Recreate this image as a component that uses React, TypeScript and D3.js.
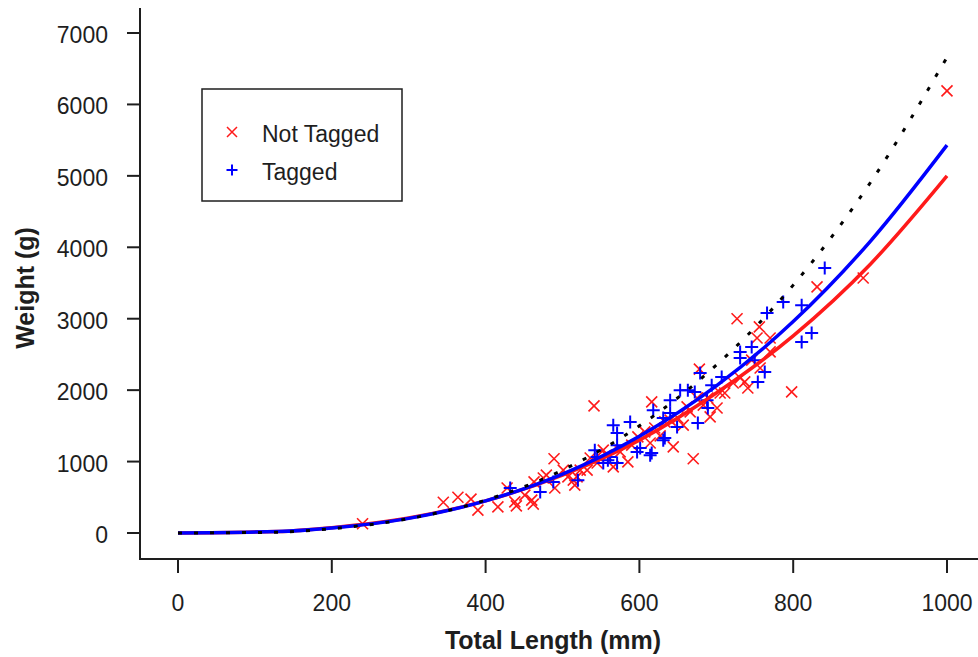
import React from "react";
import * as d3 from "d3";

// ---- data ----
const xTicks = [0, 200, 400, 600, 800, 1000];
const yTicks = [0, 1000, 2000, 3000, 4000, 5000, 6000, 7000];

const fitLength = [0, 130, 200, 300, 400, 500, 600, 700, 800, 900, 1000];
const notTaggedFit = [0, 20, 75, 210, 450, 810, 1300, 1960, 2760, 3760, 5000];
const taggedFit = [0, 20, 70, 205, 450, 825, 1355, 2060, 2960, 4080, 5430];
const pooledFit = [0, 12, 60, 200, 460, 880, 1500, 2350, 3470, 4900, 6660];

const notTaggedLength = [
  240, 345, 364, 381, 390, 416, 428, 438, 440, 451, 460, 462, 463, 475, 479, 490, 489, 501, 507, 514,
  516, 523, 519, 532, 545, 553, 541, 566, 585, 614, 616, 640, 644, 662, 675, 670, 678, 692, 701, 727,
  756, 753, 770, 737, 741, 722, 705, 798, 831, 891, 1000, 575, 590, 598, 607, 620, 627, 633, 650, 657,
  666, 683, 689, 711, 731, 757, 770, 746, 536, 557,
];
const notTaggedWeight = [
  130, 430, 500, 475, 320, 365, 630, 435, 380, 530, 460, 405, 715, 770, 810, 630, 1040, 880, 785, 740,
  670, 880, 785, 880, 980, 1160, 1780, 925, 995, 1260, 1835, 1580, 1205, 1765, 1890, 1040, 2295, 1625, 1750, 3000,
  2885, 2730, 2730, 2115, 2030, 2100, 1960, 1975, 3445, 3570, 6190, 1135, 1230, 1345, 1415, 1470, 1360, 1555, 1610, 1510,
  1695, 1790, 1890, 1960, 2170, 2310, 2535, 2420, 1050, 1090,
];

const taggedLength = [
  432, 471, 488, 520, 545, 553, 542, 562, 571, 566, 588, 571, 571, 601, 614, 631, 649, 640, 653, 672,
  640, 631, 679, 676, 689, 618, 633, 694, 707, 663, 688, 731, 731, 746, 750, 763, 754, 766, 787, 811,
  824, 811, 841, 597, 616, 559,
];
const taggedWeight = [
  630, 575, 715, 740, 1065, 980, 1160, 1065, 980, 1510, 1555, 1400, 1230, 1190, 1090, 1300, 1485, 1860, 2000, 1975,
  1680, 1610, 2240, 1540, 1750, 1720, 1330, 2070, 2185, 2000, 1860, 2535, 2450, 2605, 2420, 2255, 2115, 3080, 3235, 3190,
  2800, 2675, 3710, 1135, 1120, 1020,
];

const legendLabels = ["Not Tagged", "Tagged"];

const W = 978;
const H = 657;
const FONT = "'Liberation Sans', Arial, sans-serif";
const INK = "#1e1e1e";
const RED = "#ff1a1a";
const BLUE = "#0000ff";

export default function App() {
  const x = d3.scaleLinear().domain([0, 1000]).range([178, 947]);
  const y = d3.scaleLinear().domain([0, 7000]).range([533, 33]);

  const line = d3
    .line<number>()
    .x((_, i) => x(fitLength[i]))
    .curve(d3.curveMonotoneX);

  const redPath = line.y((d) => y(d))(notTaggedFit) || "";
  const bluePath = line.y((d) => y(d))(taggedFit) || "";
  const blackPath = line.y((d) => y(d))(pooledFit) || "";

  const cross = (s: number) => `M${-s},${-s}L${s},${s}M${-s},${s}L${s},${-s}`;
  const plus = (s: number) => `M${-s},0H${s}M0,${-s}V${s}`;

  return (
    <svg
      width={W}
      height={H}
      style={{ position: "absolute", left: 0, top: 0, background: "#fff" }}
      fontFamily={FONT}
    >
      <rect x={0} y={0} width={W} height={H} fill="#fff" />

      {/* axes */}
      <line x1={140} y1={8} x2={140} y2={560} stroke={INK} strokeWidth={2} />
      <line x1={139} y1={559} x2={978} y2={559} stroke={INK} strokeWidth={2} />

      {yTicks.map((t) => (
        <g key={"y" + t}>
          <line x1={127} x2={140} y1={y(t)} y2={y(t)} stroke={INK} strokeWidth={2} />
          <text x={108} y={y(t) + 10} textAnchor="end" fontSize={23} fill={INK}>
            {t}
          </text>
        </g>
      ))}
      {xTicks.map((t) => (
        <g key={"x" + t}>
          <line x1={x(t)} x2={x(t)} y1={559} y2={573} stroke={INK} strokeWidth={2} />
          <text x={x(t)} y={611} textAnchor="middle" fontSize={23} fill={INK}>
            {t}
          </text>
        </g>
      ))}

      <text x={553} y={649} textAnchor="middle" fontSize={25} fontWeight="bold" fill={INK}>
        Total Length (mm)
      </text>
      <text
        transform="translate(34,288) rotate(-90)"
        textAnchor="middle"
        fontSize={25}
        fontWeight="bold"
        fill={INK}
      >
        Weight (g)
      </text>

      {/* scatter */}
      {notTaggedLength.map((l, i) => (
        <path
          key={"r" + i}
          d={cross(5.5)}
          transform={`translate(${x(l)},${y(notTaggedWeight[i])})`}
          stroke={RED}
          strokeWidth={1.6}
          fill="none"
        />
      ))}
      {taggedLength.map((l, i) => (
        <path
          key={"b" + i}
          d={plus(6.5)}
          transform={`translate(${x(l)},${y(taggedWeight[i])})`}
          stroke={BLUE}
          strokeWidth={2}
          fill="none"
        />
      ))}

      {/* fitted curves */}
      <path d={redPath} fill="none" stroke={RED} strokeWidth={3.5} />
      <path d={bluePath} fill="none" stroke={BLUE} strokeWidth={3.5} />
      <path d={blackPath} fill="none" stroke="#000" strokeWidth={3} strokeDasharray="4 12" />

      {/* legend */}
      <rect x={202} y={89} width={200} height={112} fill="#fff" stroke={INK} strokeWidth={1.5} />
      <path d={cross(5)} transform="translate(232,132)" stroke={RED} strokeWidth={1.5} fill="none" />
      <path d={plus(5.5)} transform="translate(232,170)" stroke={BLUE} strokeWidth={2} fill="none" />
      <text x={262} y={142} fontSize={23} fill={INK}>
        {legendLabels[0]}
      </text>
      <text x={262} y={180} fontSize={23} fill={INK}>
        {legendLabels[1]}
      </text>
    </svg>
  );
}
